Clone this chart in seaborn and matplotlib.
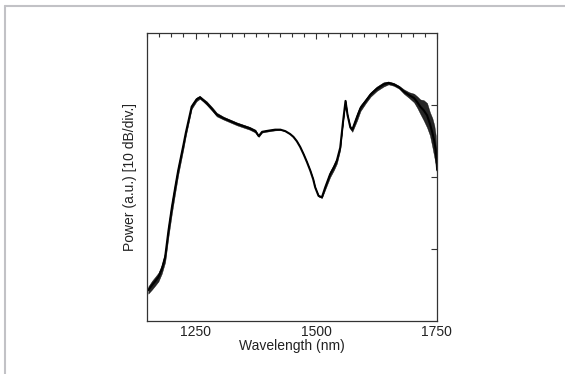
import numpy as np
import pandas as pd
import matplotlib
matplotlib.use('Agg')
import matplotlib.pyplot as plt
from matplotlib.lines import Line2D
from matplotlib.ticker import MultipleLocator, NullFormatter
import seaborn as sns

# spectrum: wavelength (nm) vs power (in 10 dB divisions)
wavelength = [1152, 1160, 1166, 1173, 1180, 1187, 1194, 1201, 1208, 1214, 1225, 1230,
              1242, 1252, 1259, 1266, 1273, 1284, 1294, 1308, 1322, 1336, 1349, 1362,
              1374, 1381, 1388, 1396, 1405, 1415, 1426, 1436, 1446, 1453, 1460, 1467,
              1474, 1481, 1488, 1494, 1498, 1505, 1512, 1519, 1529, 1537, 1543, 1550,
              1556, 1561, 1565, 1571, 1575, 1585, 1592, 1603, 1613, 1626, 1640, 1650,
              1661, 1672, 1682, 1693, 1703, 1710, 1716, 1723, 1730, 1736, 1741, 1745,
              1748, 1751]
power = [0.43, 0.50, 0.55, 0.61, 0.72, 0.89, 1.26, 1.58, 1.86, 2.09, 2.45, 2.62,
         2.98, 3.08, 3.11, 3.07, 3.03, 2.95, 2.87, 2.82, 2.78, 2.74, 2.71, 2.68,
         2.64, 2.57, 2.63, 2.64, 2.65, 2.66, 2.66, 2.64, 2.60, 2.56, 2.50, 2.42,
         2.32, 2.21, 2.09, 1.97, 1.86, 1.74, 1.72, 1.86, 2.04, 2.14, 2.23, 2.41,
         2.78, 3.06, 2.87, 2.69, 2.66, 2.84, 2.96, 3.06, 3.15, 3.23, 3.29, 3.31,
         3.29, 3.25, 3.19, 3.14, 3.10, 3.04, 2.98, 2.93, 2.86, 2.74, 2.62, 2.50,
         2.38, 2.10]
# half width of the noise band around the trace (divisions)
noise = [0.05, 0.06, 0.06, 0.06, 0.06, 0.07, 0.08, 0.08, 0.07, 0.06, 0.05, 0.04,
         0.03, 0.025, 0.02, 0.02, 0.025, 0.025, 0.025, 0.02, 0.02, 0.02, 0.02, 0.02,
         0.02, 0.01, 0.01, 0.01, 0.01, 0.01, 0.005, 0.0, 0.0, 0.0, 0.0, 0.0,
         0.0, 0.0, 0.0, 0.0, 0.0, 0.01, 0.01, 0.03, 0.04, 0.04, 0.04, 0.03,
         0.0, 0.0, 0.0, 0.02, 0.03, 0.05, 0.04, 0.03, 0.03, 0.03, 0.03, 0.02,
         0.02, 0.02, 0.03, 0.04, 0.06, 0.08, 0.10, 0.14, 0.17, 0.16, 0.2, 0.22,
         0.2, 0.08]

x_ticks = [1250, 1500, 1750]

df = pd.DataFrame({"wl": wavelength, "p": power, "n": noise})

sns.set_theme(style="white")
plt.rcParams['font.family'] = ['Liberation Sans', 'DejaVu Sans']

fig = plt.figure(figsize=(5.65, 3.74), dpi=100)
ax = fig.add_axes([0.2607, 0.1417, 0.5122, 0.7693])

ax.fill_between(df["wl"], df["p"] - df["n"], df["p"] + df["n"], color="black", alpha=0.85, lw=0.3)
sns.lineplot(data=df, x="wl", y="p", color="black", lw=1.5, ax=ax)

ax.set_xlim(1150, 1750)
ax.set_ylim(0, 4)
ax.set_xticks(x_ticks)
ax.xaxis.set_minor_locator(MultipleLocator(25))
ax.set_yticks([1, 2, 3])
ax.yaxis.set_major_formatter(NullFormatter())

ax.tick_params(axis="both", which="both", direction="in", top=True, right=True,
               color="#333333", width=0.8)
ax.tick_params(axis="both", which="major", length=4.5, labelsize=10, pad=3, labelcolor="#222222")
ax.tick_params(axis="x", which="minor", length=3)
for s in ax.spines.values():
    s.set_color("#333333")
    s.set_linewidth(0.9)

ax.set_xlabel("Wavelength (nm)", fontsize=10, labelpad=0, color="#222222")
ax.set_ylabel("Power (a.u.) [10 dB/div.]", fontsize=10, labelpad=4.5, color="#222222")

# light grey frame on the top and left edges of the image
fig.add_artist(Line2D([0.008, 1.0], [0.985, 0.985], transform=fig.transFigure, color="#c2c2c6", lw=1.5))
fig.add_artist(Line2D([0.008, 0.008], [0.0, 0.985], transform=fig.transFigure, color="#c2c2c6", lw=1.5))

fig.savefig("out.png", dpi=100)
plt.close(fig)
